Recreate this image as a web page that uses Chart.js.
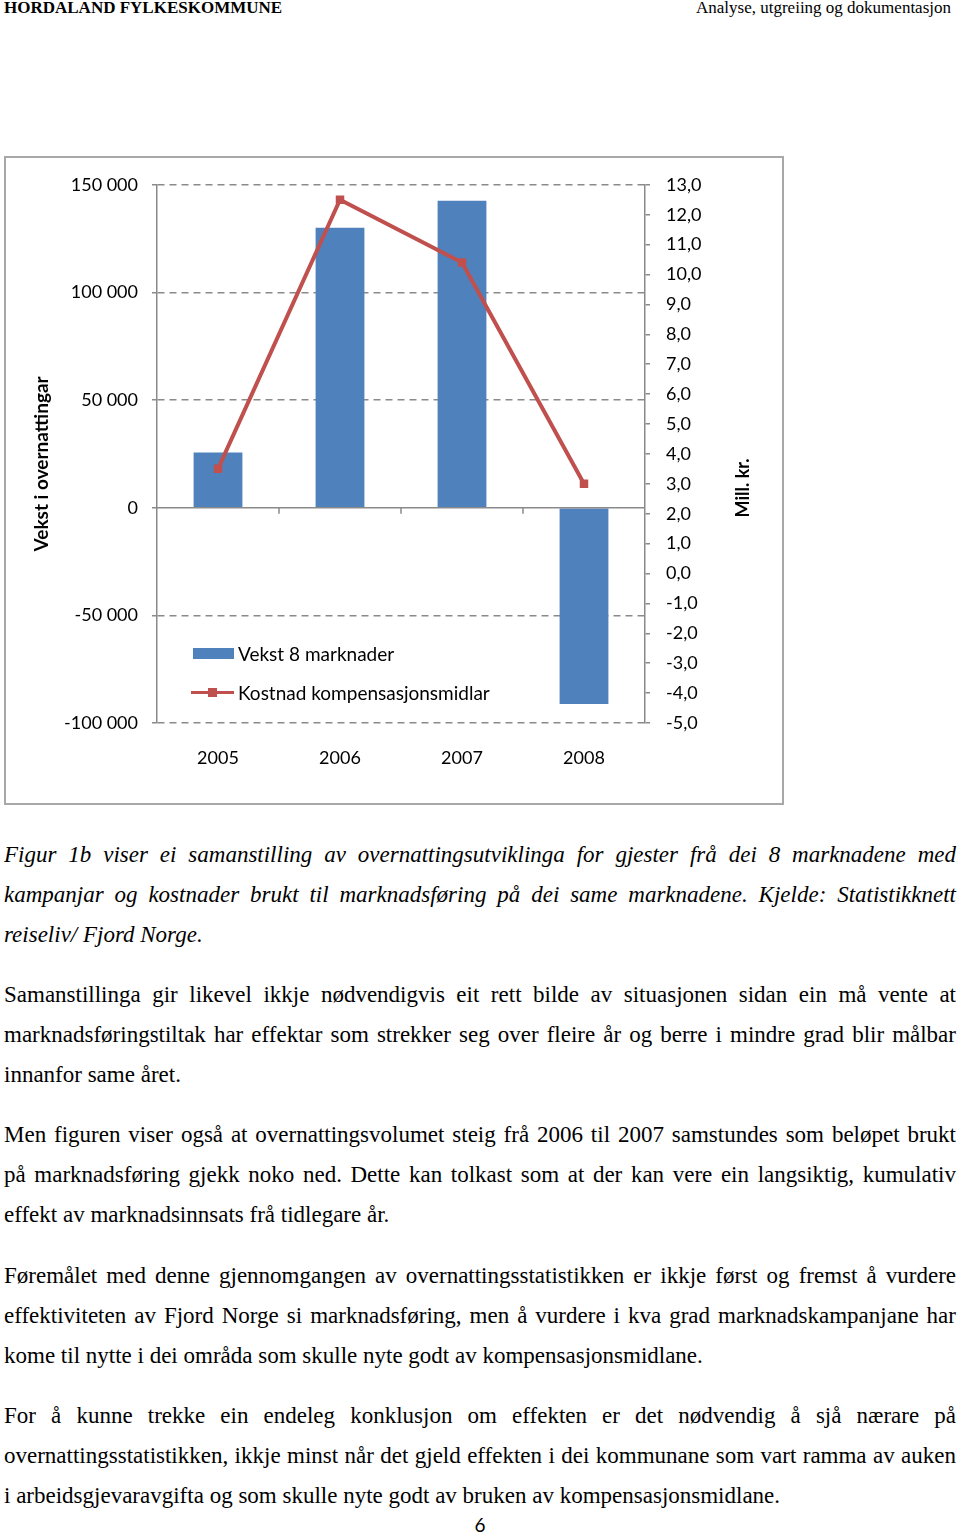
<!DOCTYPE html>
<html>
<head>
<meta charset="utf-8">
<script src="https://cdn.jsdelivr.net/npm/chart.js@4.4.1/dist/chart.umd.min.js"></script>
<style>
  html, body { margin: 0; padding: 0; background: #fff; }
  body { width: 960px; height: 1537px; position: relative; overflow: hidden; font-family: "Liberation Serif", "Times New Roman", serif; color: #000; }
  .hdl { position: absolute; top: -2px; left: 4px; font-size: 17px; font-weight: bold; }
  .hdr { position: absolute; top: -2px; right: 9px; font-size: 17px; }
  #box { position: absolute; left: 4px; top: 156px; width: 776px; height: 645px; border: 2px solid #a8a8a8; }
  #box canvas { position: absolute; left: 0; top: 0; }
  .leg { position: absolute; font-family: Lato, "Noto Sans", sans-serif; font-size: 19px; color: #000; line-height: 20px; white-space: nowrap; }
  .txt { position: absolute; left: 4px; width: 952px; font-size: 23px; line-height: 40px; }
  .txt div { text-align: justify; text-align-last: justify; white-space: nowrap; }
  .txt div.last { text-align-last: left; }
  .it { font-style: italic; }
  .pg { position: absolute; top: 1513px; left: 0; width: 960px; text-align: center; font-family: Lato, sans-serif; font-size: 19px; }
</style>
</head>
<body>
<div class="hdl">HORDALAND FYLKESKOMMUNE</div>
<div class="hdr">Analyse, utgreiing og dokumentasjon</div>

<div id="box">
  <canvas id="c" width="776" height="645"></canvas>
</div>
<div id="legend"></div>

<div class="txt it" style="top:835px">
  <div>Figur 1b viser ei samanstilling av overnattingsutviklinga for gjester frå dei 8 marknadene med</div>
  <div>kampanjar og kostnader brukt til marknadsføring på dei same marknadene. Kjelde: Statistikknett</div>
  <div class="last">reiseliv/ Fjord Norge.</div>
</div>
<div class="txt" style="top:975px">
  <div>Samanstillinga gir likevel ikkje nødvendigvis eit rett bilde av situasjonen sidan ein må vente at</div>
  <div>marknadsføringstiltak har effektar som strekker seg over fleire år og berre i mindre grad blir målbar</div>
  <div class="last">innanfor same året.</div>
</div>
<div class="txt" style="top:1115px">
  <div>Men figuren viser også at overnattingsvolumet steig frå 2006 til 2007 samstundes som beløpet brukt</div>
  <div>på marknadsføring gjekk noko ned. Dette kan tolkast som at der kan vere ein langsiktig, kumulativ</div>
  <div class="last">effekt av marknadsinnsats frå tidlegare år.</div>
</div>
<div class="txt" style="top:1256px">
  <div>Føremålet med denne gjennomgangen av overnattingsstatistikken er ikkje først og fremst å vurdere</div>
  <div>effektiviteten av Fjord Norge si marknadsføring, men å vurdere i kva grad marknadskampanjane har</div>
  <div class="last">kome til nytte i dei områda som skulle nyte godt av kompensasjonsmidlane.</div>
</div>
<div class="txt" style="top:1396px">
  <div>For å kunne trekke ein endeleg konklusjon om effekten er det nødvendig å sjå nærare på</div>
  <div>overnattingsstatistikken, ikkje minst når det gjeld effekten i dei kommunane som vart ramma av auken</div>
  <div class="last">i arbeidsgjevaravgifta og som skulle nyte godt av bruken av kompensasjonsmidlane.</div>
</div>
<div class="pg">6</div>

<script>
// ---- data ----
const years = ["2005", "2006", "2007", "2008"];
const vekstLabel = "Vekst 8 marknader";
const vekst = [25700, 130000, 142600, -91200];
const kostnadLabel = "Kostnad kompensasjonsmidlar";
const kostnad = [3.5, 12.5, 10.4, 3.0];
const leftTitle = "Vekst i overnattingar";
const rightTitle = "Mill. kr.";
const leftRange = [-100000, 150000, 50000];
const rightRange = [-5, 13, 1];

const BLUE = "#4F81BD", RED = "#C0504D", GRID = "#8a8a8a";
const FONT = "Lato, 'Noto Sans', sans-serif";

function fmtThousands(v) {
  const s = Math.abs(v).toString().replace(/\B(?=(\d{3})+(?!\d))/g, " ");
  return (v < 0 ? "-" : "") + s;
}
function fmtDec(v) { return v.toFixed(1).replace(".", ","); }

const overlay = {
  id: "overlay",
  afterDatasetsDraw(chart) {
    const ctx = chart.ctx, ca = chart.chartArea;
    const yL = chart.scales.yL, x = chart.scales.x;
    const y0 = yL.getPixelForValue(0);
    ctx.save();
    ctx.strokeStyle = GRID; ctx.lineWidth = 1.5; ctx.setLineDash([]);
    ctx.beginPath(); ctx.moveTo(ca.left, y0); ctx.lineTo(ca.right, y0); ctx.stroke();
    for (let i = 1; i < years.length; i++) {
      const xm = (x.getPixelForValue(i - 1) + x.getPixelForValue(i)) / 2;
      ctx.beginPath(); ctx.moveTo(xm, y0); ctx.lineTo(xm, y0 + 6); ctx.stroke();
    }
    ctx.restore();
  },
  afterDraw(chart) {
    const ctx = chart.ctx;
    const yL = chart.scales.yL, yR = chart.scales.yR;
    ctx.save();
    ctx.fillStyle = "#000";
    ctx.font = "bold 19px " + FONT;
    ctx.textAlign = "center"; ctx.textBaseline = "middle";
    ctx.translate(yL.left + 36, (yL.top + yL.bottom) / 2 + 10);
    ctx.rotate(-Math.PI / 2);
    ctx.fillText(leftTitle, 0, 0);
    ctx.restore();
    ctx.save();
    ctx.fillStyle = "#000";
    ctx.font = "bold 18px " + FONT;
    ctx.textAlign = "center"; ctx.textBaseline = "middle";
    ctx.translate(yR.left + 98, (yR.top + yR.bottom) / 2 + 34);
    ctx.rotate(-Math.PI / 2);
    ctx.fillText(rightTitle, 0, 0);
    ctx.restore();
  }
};

const chart = new Chart(document.getElementById("c"), {
  data: {
    labels: years,
    datasets: [
      { type: "line", label: kostnadLabel, data: kostnad, yAxisID: "yR", order: 0,
        borderColor: RED, backgroundColor: RED, borderWidth: 4, tension: 0,
        pointStyle: "rect", pointRadius: 6, pointBorderWidth: 0, pointBackgroundColor: RED },
      { type: "bar", label: vekstLabel, data: vekst, yAxisID: "yL", order: 1,
        backgroundColor: BLUE, borderWidth: 0, barPercentage: 0.4, categoryPercentage: 1 }
    ]
  },
  options: {
    responsive: false, animation: false,
    layout: { padding: { top: 26, left: 0, right: 0, bottom: 0 } },
    plugins: { legend: { display: false }, tooltip: { enabled: false } },
    scales: {
      x: {
        type: "category", position: "bottom", offset: true,
        grid: { display: false }, border: { display: false },
        ticks: { color: "#000", font: { family: FONT, size: 18 }, padding: 16, maxRotation: 0 },
        afterFit(s) { s.height = 80; }
      },
      yL: {
        type: "linear", position: "left",
        min: leftRange[0], max: leftRange[1],
        grid: { color: c => (c.tick && c.tick.value === 0) ? "rgba(0,0,0,0)" : GRID,
                lineWidth: 1.5, tickLength: 5, tickColor: GRID, tickBorderDash: [] },
        border: { display: true, color: GRID, width: 1.5, dash: [7, 5] },
        ticks: { stepSize: leftRange[2], color: "#000", font: { family: FONT, size: 18 }, padding: 14,
                 callback: v => fmtThousands(v) },
        afterFit(s) { s.width = 151; }
      },
      yR: {
        type: "linear", position: "right",
        min: rightRange[0], max: rightRange[1],
        grid: { drawOnChartArea: false, tickLength: 5, tickColor: GRID, lineWidth: 1.5 },
        border: { display: true, color: GRID, width: 1.5 },
        ticks: { stepSize: rightRange[2], color: "#000", font: { family: FONT, size: 18 }, padding: 16,
                 callback: v => fmtDec(v) },
        afterFit(s) { s.width = 137; }
      }
    }
  },
  plugins: [overlay]
});

// HTML legend placed inside the plot area, using the chart's own scales
(function buildLegend() {
  const box = document.getElementById("box");
  const ox = box.offsetLeft + 2, oy = box.offsetTop + 2;
  const ca = chart.chartArea;
  const yL = chart.scales.yL;
  const lg = document.getElementById("legend");
  const left = ox + ca.left + 36;
  const r1 = oy + yL.getPixelForValue(-68000);
  const r2 = oy + yL.getPixelForValue(-86000);
  lg.innerHTML =
    `<div style="position:absolute;left:${left}px;top:${r1 - 6}px;width:41px;height:11px;background:${BLUE}"></div>` +
    `<div class="leg" style="left:${left + 45}px;top:${r1 - 10}px">${vekstLabel}</div>` +
    `<div style="position:absolute;left:${left - 2}px;top:${r2 - 2}px;width:43px;height:3px;background:${RED}"></div>` +
    `<div style="position:absolute;left:${left + 15}px;top:${r2 - 5}px;width:9px;height:9px;background:${RED}"></div>` +
    `<div class="leg" style="left:${left + 45}px;top:${r2 - 10}px">${kostnadLabel}</div>`;
})();
</script>
</body>
</html>
